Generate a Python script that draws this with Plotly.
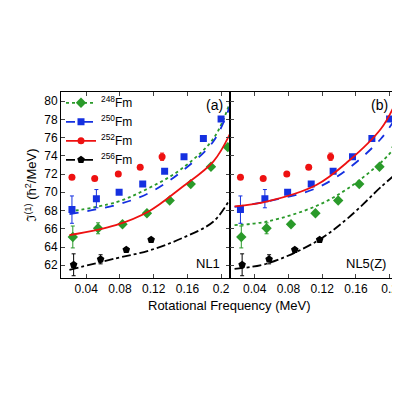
import plotly.graph_objects as go

# experimental data (same in both panels)
x_252 = [0.023, 0.050, 0.078, 0.104, 0.130]
y_252 = [71.66, 71.5, 72.0, 72.75, 73.9]
e_252 = [0.0, 0.0, 0.0, 0.0, 0.4]
x_250 = [0.023, 0.052, 0.079, 0.107, 0.133, 0.156, 0.179, 0.200]
y_250 = [68.1, 69.3, 70.0, 70.9, 72.3, 73.9, 75.9, 78.05]
e_250 = [1.5, 1.0, 0.2, 0.2, 0.2, 0.2, 0.2, 0.2]
x_248 = [0.024, 0.054, 0.083, 0.112, 0.139, 0.164, 0.188, 0.208]
y_248 = [65.1, 66.05, 66.5, 67.7, 69.1, 70.9, 72.8, 74.95]
e_248 = [1.2, 0.6, 0.2, 0.2, 0.2, 0.2, 0.2, 0.2]
x_256 = [0.025, 0.057, 0.0875, 0.117]
y_256 = [62.05, 62.65, 63.7, 64.8]
e_256 = [1.2, 0.5, 0.2, 0.2]

# theory NL1
t1_x = [0.02, 0.075, 0.114, 0.152, 0.191, 0.211]
t1_248 = [67.9, 68.9, 70.45, 72.5, 75.9, 80.0]
t1_250 = [67.6, 68.6, 69.9, 72.2, 75.6, 79.6]
t1_252 = [65.3, 66.4, 67.9, 70.45, 73.4, 76.5]
t1_256 = [61.5, 62.75, 63.6, 64.9, 66.8, 69.35]
# theory NL5(Z)
t5_x = [0.016, 0.055, 0.113, 0.151, 0.19, 0.206]
t5_248 = [66.4, 66.8, 68.5, 70.45, 73.3, 74.85]
t5_250 = [68.4, 69.0, 70.45, 72.6, 75.9, 78.0]
t5_252 = [68.45, 69.0, 70.8, 73.4, 77.0, 79.6]
t5_256 = [61.6, 62.2, 64.6, 67.2, 70.6, 71.9]

iso = [
    ("<sup>248</sup>Fm", "#2a9a2a", "diamond", "dot", x_248, y_248, e_248, t1_248, t5_248, 8),
    ("<sup>250</sup>Fm", "#1530e0", "square", "dash", x_250, y_250, e_250, t1_250, t5_250, 7),
    ("<sup>252</sup>Fm", "#ee1111", "circle", "solid", x_252, y_252, e_252, t1_252, t5_252, 7),
    ("<sup>256</sup>Fm", "black", "pentagon", "dashdot", x_256, y_256, e_256, t1_256, t5_256, 8),
]

fig = go.Figure()
for name, c, sym, dash, xs, ys, es, t1, t5, ms in iso:
    for ax, tx, ty in (("", t1_x, t1), ("2", t5_x, t5)):
        fig.add_trace(go.Scatter(x=tx, y=ty, mode="lines", line=dict(color=c, dash=dash, width=1.8, shape="spline"),
                                 xaxis="x" + ax, yaxis="y" + ax, showlegend=False, hoverinfo="skip"))
        fig.add_trace(go.Scatter(x=xs, y=ys, mode="markers", marker=dict(color=c, symbol=sym, size=ms),
                                 error_y=dict(type="data", array=es, color=c, thickness=1, width=2),
                                 xaxis="x" + ax, yaxis="y" + ax, showlegend=False))
    fig.add_trace(go.Scatter(x=[None], y=[None], mode="lines+markers", name=name,
                             marker=dict(color=c, symbol=sym, size=ms), line=dict(color=c, dash=dash, width=1.8)))

axis_common = dict(range=[0.01, 0.21], tickvals=[0.04, 0.08, 0.12, 0.16, 0.2],
                   ticktext=["0.04", "0.08", "0.12", "0.16", "0.2"], ticks="inside", ticklen=4,
                   mirror="allticks", showline=True, linecolor="black", linewidth=1, showgrid=False,
                   zeroline=False, tickfont=dict(size=12, color="black"))
yaxis_common = dict(range=[60.6, 81], tickvals=list(range(62, 81, 2)), ticks="inside", ticklen=4,
                    mirror="allticks", showline=True, linecolor="black", linewidth=1, showgrid=False,
                    zeroline=False, tickfont=dict(size=12, color="black"))

fig.update_layout(
    width=400, height=400, margin=dict(l=53, r=10, t=84, b=130),
    plot_bgcolor="white", paper_bgcolor="white",
    font=dict(family="Liberation Sans, Arial", color="black"),
    xaxis=dict(domain=[0, 0.5], **axis_common),
    xaxis2=dict(domain=[0.5, 1], **axis_common),
    yaxis=dict(**yaxis_common, title=dict(text="ℑ<sup>(1)</sup> (ħ<sup>2</sup>/MeV)", font=dict(size=13), standoff=4)),
    yaxis2=dict(**yaxis_common, anchor="x2", showticklabels=False),
    legend=dict(x=0.0, y=1.02, xanchor="left", yanchor="top", bgcolor="rgba(0,0,0,0)",
                font=dict(size=12), tracegroupgap=0, itemwidth=30),
    annotations=[
        dict(text="Rotational Frequency (MeV)", x=0.5, y=-0.2, xref="paper", yref="paper", showarrow=False, font=dict(size=13)),
        dict(text="(a)", x=0.192, y=79.6, xref="x", yref="y", showarrow=False, font=dict(size=14)),
        dict(text="(b)", x=0.188, y=79.6, xref="x2", yref="y2", showarrow=False, font=dict(size=14)),
        dict(text="NL1", x=0.185, y=62.2, xref="x", yref="y", showarrow=False, font=dict(size=13)),
        dict(text="NL5(Z)", x=0.172, y=62.2, xref="x2", yref="y2", showarrow=False, font=dict(size=13)),
    ],
)
fig.write_html("out.html")
